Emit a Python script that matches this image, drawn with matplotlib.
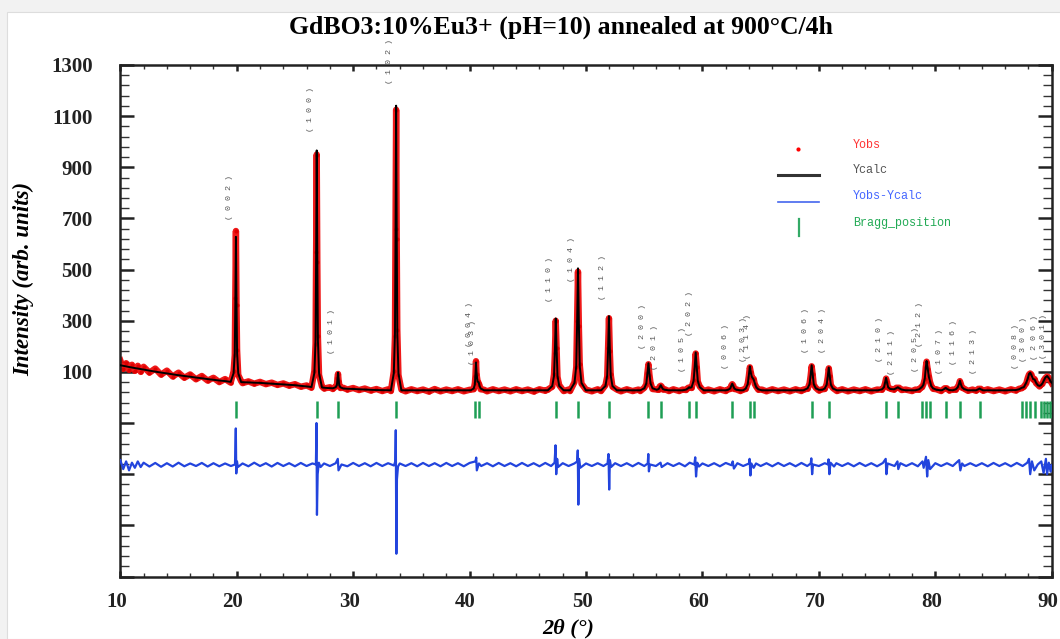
import numpy as np
import matplotlib
matplotlib.use('Agg')
import matplotlib.pyplot as plt
import matplotlib.transforms as mtransforms
from matplotlib.ticker import FixedLocator, FuncFormatter, MultipleLocator
from matplotlib.patches import Rectangle

# Ycalc profile (2theta, counts)
calc_pts = [
    (10.0, 126), (11.0, 117), (12.0, 109), (13.0, 101), (14.0, 94), (15.0, 87), (16.0, 81),
    (17.0, 75), (18.0, 69), (19.0, 64),
    (19.48, 61), (19.73, 95), (19.83, 174), (19.88, 373), (19.93, 628), (19.98, 373),
    (20.03, 174), (20.13, 95), (20.38, 60),
    (21.0, 59), (22.0, 57), (23.0, 54), (24.0, 51), (25.0, 48), (26.0, 43),
    (26.42, 41), (26.67, 96), (26.77, 225), (26.82, 549), (26.87, 966), (26.92, 549),
    (26.97, 225), (27.07, 95), (27.32, 39), (27.8, 37),
    (28.25, 36), (28.5, 40), (28.6, 48), (28.65, 70), (28.70, 97), (28.75, 70), (28.8, 48),
    (28.9, 40), (29.15, 35),
    (30.0, 33), (31.0, 31), (32.0, 29), (33.0, 28),
    (33.24, 28), (33.49, 95), (33.59, 251), (33.64, 640), (33.69, 1141), (33.74, 640),
    (33.79, 251), (33.89, 95), (34.14, 28),
    (35.0, 28), (36.0, 28), (37.0, 28), (38.0, 28), (39.0, 28),
    (40.1, 28), (40.35, 35), (40.45, 50), (40.5, 88), (40.55, 137), (40.6, 95), (40.68, 62),
    (40.78, 60), (40.85, 45), (40.95, 35), (41.25, 28),
    (42.0, 28), (44.0, 28), (46.0, 28),
    (46.72, 28), (47.1, 45), (47.25, 84), (47.325, 183), (47.40, 309), (47.475, 183),
    (47.55, 84), (47.7, 45), (48.08, 28),
    (48.63, 28), (49.01, 57), (49.16, 123), (49.235, 290), (49.31, 505), (49.385, 290),
    (49.46, 123), (49.61, 57), (49.99, 28), (50.5, 28),
    (51.29, 28), (51.67, 45), (51.82, 86), (51.895, 188), (51.97, 318), (52.045, 188),
    (52.12, 86), (52.27, 45), (52.65, 28),
    (53.0, 28), (54.0, 28),
    (54.66, 28), (55.01, 36), (55.18, 55), (55.27, 92), (55.36, 134), (55.45, 92),
    (55.54, 55), (55.71, 36),
    (56.07, 30), (56.24, 33), (56.33, 40), (56.42, 48), (56.51, 40), (56.6, 33), (56.77, 30),
    (57.12, 28), (57.5, 28), (58.0, 28),
    (58.3, 28), (58.6, 31), (58.77, 36), (58.86, 40), (58.95, 38), (59.07, 40), (59.24, 65),
    (59.33, 117), (59.42, 176), (59.51, 117), (59.6, 65), (59.77, 40), (60.12, 28),
    (61.0, 28),
    (62.0, 28), (62.21, 30), (62.38, 35), (62.47, 44), (62.56, 54), (62.65, 44), (62.74, 35),
    (62.91, 30), (63.26, 28),
    (63.5, 28), (63.72, 35), (63.89, 52), (63.98, 85), (64.07, 122), (64.16, 95), (64.25, 80),
    (64.4, 70), (64.5, 55), (64.62, 40), (64.8, 32), (65.1, 28),
    (66.0, 28), (67.0, 28), (68.0, 28),
    (68.68, 28), (69.03, 36), (69.2, 52), (69.29, 87), (69.38, 126), (69.47, 87), (69.56, 52),
    (69.73, 36), (70.0, 30),
    (70.3, 30), (70.5, 35), (70.67, 50), (70.76, 81), (70.85, 117), (70.94, 81), (71.03, 50),
    (71.2, 35), (71.55, 28),
    (72.0, 28), (73.0, 28), (74.0, 28),
    (75.07, 28), (75.42, 32), (75.59, 40), (75.68, 57), (75.77, 77), (75.86, 57), (75.95, 40),
    (76.12, 33), (76.45, 32), (76.65, 36), (76.78, 40), (76.9, 36), (77.1, 31), (77.45, 28),
    (77.8, 28),
    (78.3, 28), (78.6, 32), (78.78, 38), (78.87, 42), (78.98, 50), (79.1, 75), (79.18, 115),
    (79.25, 143), (79.34, 115), (79.45, 80), (79.55, 62), (79.65, 45), (79.8, 36), (80.1, 30),
    (80.5, 28),
    (80.6, 29), (80.8, 34), (80.89, 38), (80.98, 34), (81.2, 29),
    (81.5, 28), (81.76, 32), (81.93, 40), (82.02, 51), (82.11, 66), (82.2, 51), (82.29, 40),
    (82.46, 33), (82.8, 28),
    (83.5, 28), (83.7, 32), (83.8, 35), (83.9, 32), (84.1, 28),
    (85.0, 28), (86.0, 28),
    (86.9, 29), (87.2, 32), (87.43, 38), (87.6, 40), (87.81, 58), (87.95, 75), (88.05, 92),
    (88.15, 97), (88.25, 88), (88.4, 72), (88.53, 70), (88.65, 58), (88.8, 48), (88.95, 45),
    (89.07, 48), (89.2, 55), (89.31, 65), (89.45, 78), (89.6, 84), (89.7, 78), (89.81, 72),
    (89.9, 62), (90.0, 58),
]

# Yobs points
obs_pts = [
    (10.0, 145), (10.25, 112), (10.5, 134), (10.75, 108), (11.0, 128), (11.25, 104),
    (11.5, 124), (11.75, 100), (12.0, 120), (12.5, 97), (13.0, 113), (13.5, 89), (14.0, 105),
    (14.5, 82), (15.0, 97), (15.5, 77), (16.0, 90), (16.5, 71), (17.0, 84), (17.5, 66),
    (18.0, 77), (18.5, 60), (19.0, 72),
    (19.48, 58), (19.73, 102), (19.83, 165), (19.88, 390), (19.93, 651), (19.98, 360),
    (20.03, 185), (20.13, 88), (20.38, 64),
    (20.5, 56), (21.0, 63), (21.5, 54), (22.0, 61), (22.5, 52), (23.0, 58), (23.5, 49),
    (24.0, 55), (24.5, 46), (25.0, 52), (25.5, 42), (26.0, 47),
    (26.42, 38), (26.67, 104), (26.77, 210), (26.82, 570), (26.87, 950), (26.92, 530),
    (26.97, 240), (27.07, 88), (27.32, 43), (27.5, 35), (28.0, 40),
    (28.25, 33), (28.5, 44), (28.6, 45), (28.65, 76), (28.70, 92), (28.75, 66), (28.8, 52),
    (28.9, 37), (29.15, 38),
    (29.5, 31), (30.0, 37), (30.5, 29), (31.0, 35), (31.5, 27), (32.0, 33), (32.5, 25),
    (33.0, 32),
    (33.24, 25), (33.49, 102), (33.59, 240), (33.64, 660), (33.69, 1125), (33.74, 620),
    (33.79, 265), (33.89, 88), (34.14, 31),
    (34.5, 24), (35.0, 32), (35.5, 25), (36.0, 31), (36.5, 23), (37.0, 33), (37.5, 24),
    (38.0, 31), (38.5, 25), (39.0, 32), (39.5, 24), (40.0, 30),
    (40.35, 32), (40.45, 55), (40.5, 84), (40.55, 142), (40.6, 90), (40.68, 66), (40.78, 56),
    (40.85, 48), (40.95, 32), (41.25, 30),
    (41.5, 24), (42.0, 32), (42.5, 25), (43.0, 31), (43.5, 24), (44.0, 32), (44.5, 25),
    (45.0, 31), (45.5, 23), (46.0, 32), (46.5, 26),
    (46.72, 31), (47.1, 42), (47.25, 90), (47.325, 175), (47.40, 300), (47.475, 192),
    (47.55, 80), (47.7, 48), (48.08, 25), (48.5, 31),
    (48.63, 25), (49.01, 60), (49.16, 118), (49.235, 300), (49.31, 492), (49.385, 280),
    (49.46, 130), (49.61, 54), (49.99, 31), (50.5, 24), (51.0, 32),
    (51.29, 25), (51.67, 48), (51.82, 82), (51.895, 195), (51.97, 310), (52.045, 180),
    (52.12, 90), (52.27, 42), (52.65, 31),
    (53.0, 24), (53.5, 32), (54.0, 25), (54.5, 31),
    (54.66, 25), (55.01, 38), (55.18, 52), (55.27, 96), (55.36, 130), (55.45, 88),
    (55.54, 58), (55.71, 33),
    (56.07, 31), (56.24, 30), (56.33, 43), (56.42, 46), (56.51, 42), (56.6, 31), (56.77, 32),
    (57.12, 25), (57.5, 32), (58.0, 25),
    (58.3, 31), (58.6, 29), (58.77, 38), (58.86, 38), (58.95, 40), (59.07, 37), (59.24, 68),
    (59.33, 112), (59.42, 172), (59.51, 121), (59.6, 62), (59.77, 43), (60.12, 25),
    (60.5, 31), (61.0, 24), (61.5, 32), (62.0, 25),
    (62.21, 32), (62.38, 33), (62.47, 46), (62.56, 52), (62.65, 46), (62.74, 33), (62.91, 32),
    (63.26, 25),
    (63.5, 31), (63.72, 33), (63.89, 55), (63.98, 82), (64.07, 118), (64.16, 98), (64.25, 77),
    (64.4, 73), (64.5, 52), (64.62, 42), (64.8, 30), (65.1, 31),
    (65.5, 24), (66.0, 32), (66.5, 25), (67.0, 31), (67.5, 24), (68.0, 32), (68.5, 25),
    (68.68, 31), (69.03, 34), (69.2, 55), (69.29, 84), (69.38, 122), (69.47, 90), (69.56, 50),
    (69.73, 38), (70.0, 27),
    (70.3, 32), (70.5, 33), (70.67, 53), (70.76, 78), (70.85, 114), (70.94, 84), (71.03, 48),
    (71.2, 37), (71.55, 25),
    (72.0, 32), (72.5, 24), (73.0, 31), (73.5, 25), (74.0, 32), (74.5, 24), (75.0, 31),
    (75.42, 30), (75.59, 42), (75.68, 55), (75.77, 74), (75.86, 59), (75.95, 38), (76.12, 35),
    (76.45, 30), (76.65, 38), (76.78, 38), (76.9, 38), (77.1, 29), (77.45, 31),
    (78.0, 25), (78.3, 31), (78.6, 30), (78.78, 40), (78.87, 40), (78.98, 52), (79.1, 72),
    (79.18, 118), (79.25, 140), (79.34, 112), (79.45, 83), (79.55, 60), (79.65, 47),
    (79.8, 34), (80.1, 32), (80.5, 25),
    (80.8, 36), (80.89, 36), (80.98, 36), (81.2, 27), (81.5, 31),
    (81.76, 30), (81.93, 42), (82.02, 49), (82.11, 64), (82.2, 53), (82.29, 38), (82.46, 35),
    (82.8, 26),
    (83.2, 31), (83.5, 26), (83.7, 34), (83.8, 33), (83.9, 34), (84.1, 26), (84.5, 32),
    (85.0, 25), (85.5, 31), (86.0, 24), (86.5, 32),
    (86.9, 27), (87.2, 34), (87.43, 36), (87.6, 42), (87.81, 55), (87.95, 78), (88.05, 90),
    (88.15, 94), (88.25, 90), (88.4, 70), (88.53, 72), (88.65, 56), (88.8, 50), (88.95, 43),
    (89.07, 50), (89.2, 53), (89.31, 67), (89.45, 76), (89.6, 82), (89.7, 80), (89.81, 70),
    (89.9, 64), (90.0, 56),
]

# Yobs-Ycalc curve as drawn (already shifted down in the plot)
diff_pts = [
    (10.0, -245), (10.25, -280), (10.5, -250), (10.75, -285), (11.0, -255), (11.25, -275),
    (11.5, -250), (11.75, -272), (12.0, -255), (12.5, -270), (13.0, -256), (13.5, -271),
    (14.0, -257), (14.5, -270), (15.0, -255), (15.5, -269), (16.0, -258), (16.5, -268),
    (17.0, -256), (17.5, -270), (18.0, -257), (18.5, -269), (19.0, -258), (19.5, -268),
    (19.85, -262), (19.92, -121), (19.96, -297), (20.02, -250), (20.1, -272), (20.5, -258),
    (21.0, -269), (21.5, -255), (22.0, -268), (22.5, -257), (23.0, -270), (23.5, -256),
    (24.0, -268), (24.5, -257), (25.0, -269), (25.5, -256), (26.0, -268), (26.5, -258),
    (26.8, -262), (26.85, -100), (26.89, -459), (26.95, -300), (27.05, -255), (27.2, -272),
    (27.5, -258), (28.0, -268), (28.5, -257), (28.68, -240), (28.74, -285), (29.0, -262),
    (29.5, -269), (30.0, -256), (30.5, -268), (31.0, -257), (31.5, -269), (32.0, -256),
    (32.5, -268), (33.0, -257), (33.5, -266), (33.62, -250), (33.66, -128), (33.71, -611),
    (33.76, -320), (33.85, -270), (34.0, -258), (34.5, -268), (35.0, -257), (35.5, -269),
    (36.0, -256), (36.5, -268), (37.0, -257), (37.5, -269), (38.0, -256), (38.5, -268),
    (39.0, -257), (39.5, -269), (40.0, -256), (40.5, -250), (40.57, -235), (40.62, -285),
    (40.8, -258), (41.0, -268), (41.5, -257), (42.0, -269), (42.5, -256), (43.0, -268),
    (43.5, -257), (44.0, -269), (44.5, -256), (45.0, -268), (45.5, -257), (46.0, -269),
    (46.5, -256), (47.0, -268), (47.3, -255), (47.38, -187), (47.44, -300), (47.52, -240),
    (47.6, -272), (48.0, -257), (48.5, -268), (49.0, -258), (49.25, -250), (49.29, -207),
    (49.34, -419), (49.4, -240), (49.5, -275), (50.0, -258), (50.5, -268), (51.0, -257),
    (51.5, -268), (51.85, -258), (51.93, -221), (51.99, -360), (52.05, -245), (52.15, -272),
    (52.5, -257), (53.0, -268), (53.5, -257), (54.0, -269), (54.5, -256), (55.0, -268),
    (55.3, -258), (55.35, -221), (55.4, -289), (55.5, -262), (56.0, -268), (56.4, -255),
    (56.5, -272), (57.0, -257), (57.5, -268), (58.0, -257), (58.5, -269), (58.9, -255),
    (59.3, -262), (59.38, -234), (59.45, -309), (59.55, -255), (59.7, -270), (60.0, -258),
    (60.5, -268), (61.0, -257), (61.5, -269), (62.0, -256), (62.5, -265), (62.6, -250),
    (62.7, -278), (63.0, -257), (63.5, -268), (64.0, -258), (64.05, -240), (64.12, -305),
    (64.2, -258), (64.4, -275), (64.6, -258), (65.0, -268), (65.5, -257), (66.0, -269),
    (66.5, -256), (67.0, -268), (67.5, -257), (68.0, -269), (68.5, -256), (69.0, -268),
    (69.3, -258), (69.35, -238), (69.42, -300), (69.5, -262), (70.0, -268), (70.5, -257),
    (70.8, -262), (70.83, -242), (70.9, -300), (71.0, -255), (71.3, -270), (71.5, -257),
    (72.0, -268), (72.5, -257), (73.0, -269), (73.5, -256), (74.0, -268), (74.5, -257),
    (75.0, -269), (75.5, -256), (75.74, -240), (75.8, -300), (75.9, -258), (76.5, -268),
    (76.75, -250), (76.82, -280), (77.0, -257), (77.5, -268), (78.0, -257), (78.5, -269),
    (78.9, -250), (79.0, -275), (79.2, -232), (79.3, -309), (79.4, -245), (79.55, -280),
    (80.0, -257), (80.5, -268), (81.0, -257), (81.5, -268), (82.05, -245), (82.15, -285),
    (82.3, -258), (82.5, -268), (83.0, -257), (83.5, -268), (84.0, -257), (84.5, -269),
    (85.0, -256), (85.5, -268), (86.0, -257), (86.5, -269), (87.0, -256), (87.5, -268),
    (87.9, -255), (88.05, -240), (88.15, -300), (88.3, -250), (88.5, -285), (88.8, -262),
    (89.1, -250), (89.3, -295), (89.5, -240), (89.6, -300), (89.75, -255), (89.9, -290),
    (90.0, -265),
]

bragg_pos = [19.93, 26.87, 28.70, 33.69, 40.50, 40.78, 47.40, 49.31, 51.97, 55.36, 56.42,
             58.86, 59.42, 62.56, 64.07, 64.40, 69.38, 70.85, 75.77, 76.78, 78.87, 79.21,
             79.52, 80.89, 82.11, 83.80, 87.43, 87.81, 88.15, 88.53, 89.07, 89.31, 89.60, 89.81]

# hkl labels: text, bragg position, bottom of label (counts)
hkl_text = ['( 0 0 2 )', '( 1 0 0 )', '( 1 0 1 )', '( 1 0 2 )', '( 0 0 4 )', '( 1 0 3 )',
            '( 1 1 0 )', '( 1 0 4 )', '( 1 1 2 )', '( 2 0 0 )', '( 2 0 1 )', '( 1 0 5 )',
            '( 2 0 2 )', '( 0 0 6 )', '( 2 0 3 )', '( 1 1 4 )', '( 1 0 6 )', '( 2 0 4 )',
            '( 2 1 0 )', '( 2 1 1 )', '( 2 0 5 )', '( 2 1 2 )', '( 1 0 7 )', '( 1 1 6 )',
            '( 2 1 3 )', '( 0 0 8 )', '( 3 0 0 )', '( 2 0 6 )', '( 3 0 1 )']
hkl_pos = [19.93, 26.87, 28.70, 33.69, 40.50, 40.78, 47.40, 49.31, 51.97, 55.36, 56.42,
           58.86, 59.42, 62.56, 64.07, 64.40, 69.38, 70.85, 75.77, 76.78, 78.87, 79.21,
           80.89, 82.11, 83.80, 87.43, 88.15, 89.07, 89.81]
hkl_bottom = [695, 1039, 170, 1224, 196, 126, 374, 452, 380, 191, 106, 100, 241, 113, 140,
              150, 172, 172, 139, 87, 100, 198, 93, 126, 93, 113, 139, 146, 150]

legend_names = ['Yobs', 'Ycalc', 'Yobs-Ycalc', 'Bragg_position']

calc_x, calc_y = zip(*calc_pts)
obs_x, obs_y = zip(*obs_pts)
diff_x, diff_y = zip(*diff_pts)

plt.rcParams['font.family'] = 'Liberation Serif'

fig = plt.figure(figsize=(10.6, 6.39), dpi=100, facecolor='#f2f2f2')
fig.patches.append(Rectangle((7 / 1060, 0), 1, 1 - 12 / 639, transform=fig.transFigure,
                             facecolor='white', edgecolor='#dddddd', lw=0.8, zorder=-10))
ax = fig.add_axes([0.1135, 0.0978, 0.8787, 0.8005])
ax.set_facecolor('white')

ax.plot(obs_x, obs_y, color='#ee0000', lw=4.6, alpha=0.9, zorder=2, solid_joinstyle='round')
ax.plot(obs_x, obs_y, 'o', color='#dd0000', ms=3.0, mew=0, zorder=2)
ax.plot(calc_x, calc_y, color='black', lw=1.4, zorder=3)
ax.plot(diff_x, diff_y, color='#2244dd', lw=1.6, zorder=3)
ax.vlines(bragg_pos, -82, -12, color='#1f9e55', lw=1.8, zorder=3)

for txt, pos, yb in zip(hkl_text, hkl_pos, hkl_bottom):
    ax.text(pos - 0.55, yb, txt, rotation=90, ha='center', va='bottom', color='#555555',
            fontsize=6, family='Liberation Mono', clip_on=False, zorder=4)

# legend drawn by hand, as in the original
ax.plot([0.728], [0.835], 'o', color='red', ms=3, mew=0, transform=ax.transAxes, clip_on=False)
ax.plot([0.7066, 0.750], [0.784, 0.784], color='#333333', lw=2.2, transform=ax.transAxes)
ax.plot([0.7066, 0.750], [0.733, 0.733], color='#4466ee', lw=1.2, transform=ax.transAxes)
ax.plot([0.7284, 0.7284], [0.666, 0.699], color='#33aa66', lw=1.6, transform=ax.transAxes)
leg_colors = ['#ff3333', '#555555', '#4466ff', '#22aa55']
leg_y = [0.843, 0.794, 0.743, 0.692]
for name, c, yy in zip(legend_names, leg_colors, leg_y):
    ax.text(0.7865, yy, name, color=c, fontsize=8.5, family='Liberation Mono',
            va='center', ha='left', transform=ax.transAxes)

ax.set_xlim(10, 90)
ax.set_ylim(-700, 1300)
ax.xaxis.set_major_locator(MultipleLocator(10))
ax.xaxis.set_minor_locator(MultipleLocator(2))
ax.yaxis.set_major_locator(FixedLocator(np.arange(-700, 1301, 200)))
ax.yaxis.set_minor_locator(FixedLocator(np.arange(-700, 1301, 40)))
ax.yaxis.set_major_formatter(FuncFormatter(lambda v, p: '%d' % v if v > 0 else ''))

ax.tick_params(axis='y', which='major', direction='in', length=10, width=1.8,
               left=True, right=True, labelsize=15, pad=20, colors='#222222')
ax.tick_params(axis='y', which='minor', direction='in', length=6.5, width=1.0,
               left=True, right=True, colors='#333333')
ax.tick_params(axis='x', which='major', direction='in', length=4.5, width=1.8,
               top=True, bottom=True, labelsize=15, pad=11, colors='#222222')
ax.tick_params(axis='x', which='minor', direction='in', length=3, width=1.0,
               top=True, bottom=True, colors='#333333')
shift = mtransforms.ScaledTranslation(-4 / 100, 0, fig.dpi_scale_trans)
for lab in ax.get_xticklabels():
    lab.set_fontweight('bold')
    lab.set_transform(lab.get_transform() + shift)
for lab in ax.get_yticklabels():
    lab.set_fontweight('bold')
for sp in ax.spines.values():
    sp.set_linewidth(1.8)
    sp.set_color('#222222')

ax.text(-0.104, 0.581, 'Intensity (arb. units)', rotation=90, ha='center', va='center',
        fontsize=16.5, fontweight='bold', fontstyle='italic', transform=ax.transAxes)
ax.text(0.481, -0.082, '2θ (°)', ha='center', va='top', fontsize=16, fontweight='bold',
        fontstyle='italic', transform=ax.transAxes)

fig.text(0.529, 0.958, 'GdBO3:10%Eu3+ (pH=10) annealed at 900°C/4h', ha='center',
         va='center', fontsize=18.5, fontweight='bold')

fig.savefig('out.png', dpi=100, facecolor=fig.get_facecolor())
